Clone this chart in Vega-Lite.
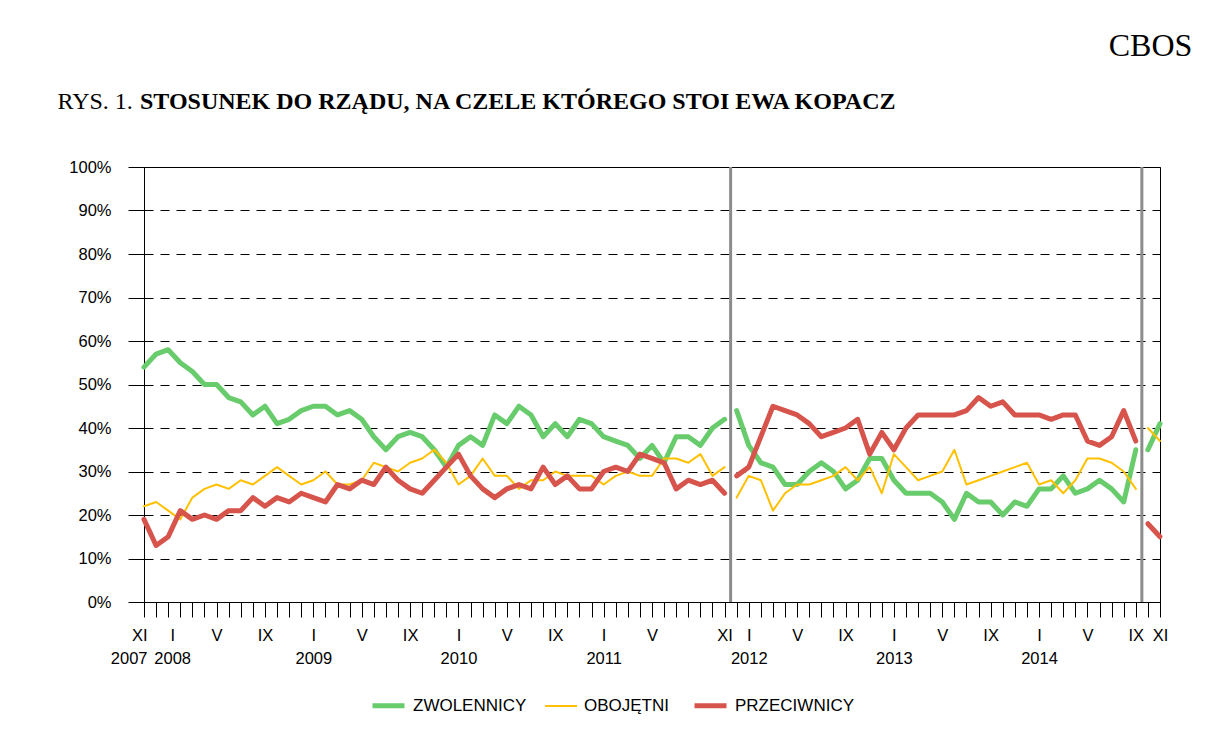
{
  "$schema": "https://vega.github.io/schema/vega-lite/v6.json",
  "width": 1016,
  "height": 435,
  "autosize": {"type": "none"},
  "padding": {"left": 144, "top": 167, "right": 49, "bottom": 149},
  "background": "white",
  "config": {
    "view": {"stroke": "black", "strokeWidth": 1},
    "axis": {"domainColor": "black", "tickColor": "black", "labelColor": "black", "labelFont": "Liberation Sans"}
  },
  "title": {
    "text": "STOSUNEK DO RZĄDU, NA CZELE KTÓREGO STOI EWA KOPACZ",
    "anchor": "start",
    "frame": "group",
    "font": "Liberation Serif",
    "fontSize": 24,
    "fontWeight": "bold",
    "color": "black",
    "baseline": "alphabetic",
    "offset": 0,
    "dx": -4,
    "dy": 104
  },
  "datasets": {
    "breaks": [{"i": 48.5}, {"i": 82.5}],
    "poll": [
      {"i": 0, "seg": 1, "ZWOLENNICY": 54, "OBOJĘTNI": 22, "PRZECIWNICY": 19},
      {"i": 1, "seg": 1, "ZWOLENNICY": 57, "OBOJĘTNI": 23, "PRZECIWNICY": 13},
      {"i": 2, "seg": 1, "ZWOLENNICY": 58, "OBOJĘTNI": 21, "PRZECIWNICY": 15},
      {"i": 3, "seg": 1, "ZWOLENNICY": 55, "OBOJĘTNI": 19, "PRZECIWNICY": 21},
      {"i": 4, "seg": 1, "ZWOLENNICY": 53, "OBOJĘTNI": 24, "PRZECIWNICY": 19},
      {"i": 5, "seg": 1, "ZWOLENNICY": 50, "OBOJĘTNI": 26, "PRZECIWNICY": 20},
      {"i": 6, "seg": 1, "ZWOLENNICY": 50, "OBOJĘTNI": 27, "PRZECIWNICY": 19},
      {"i": 7, "seg": 1, "ZWOLENNICY": 47, "OBOJĘTNI": 26, "PRZECIWNICY": 21},
      {"i": 8, "seg": 1, "ZWOLENNICY": 46, "OBOJĘTNI": 28, "PRZECIWNICY": 21},
      {"i": 9, "seg": 1, "ZWOLENNICY": 43, "OBOJĘTNI": 27, "PRZECIWNICY": 24},
      {"i": 10, "seg": 1, "ZWOLENNICY": 45, "OBOJĘTNI": 29, "PRZECIWNICY": 22},
      {"i": 11, "seg": 1, "ZWOLENNICY": 41, "OBOJĘTNI": 31, "PRZECIWNICY": 24},
      {"i": 12, "seg": 1, "ZWOLENNICY": 42, "OBOJĘTNI": 29, "PRZECIWNICY": 23},
      {"i": 13, "seg": 1, "ZWOLENNICY": 44, "OBOJĘTNI": 27, "PRZECIWNICY": 25},
      {"i": 14, "seg": 1, "ZWOLENNICY": 45, "OBOJĘTNI": 28, "PRZECIWNICY": 24},
      {"i": 15, "seg": 1, "ZWOLENNICY": 45, "OBOJĘTNI": 30, "PRZECIWNICY": 23},
      {"i": 16, "seg": 1, "ZWOLENNICY": 43, "OBOJĘTNI": 27, "PRZECIWNICY": 27},
      {"i": 17, "seg": 1, "ZWOLENNICY": 44, "OBOJĘTNI": 27, "PRZECIWNICY": 26},
      {"i": 18, "seg": 1, "ZWOLENNICY": 42, "OBOJĘTNI": 28, "PRZECIWNICY": 28},
      {"i": 19, "seg": 1, "ZWOLENNICY": 38, "OBOJĘTNI": 32, "PRZECIWNICY": 27},
      {"i": 20, "seg": 1, "ZWOLENNICY": 35, "OBOJĘTNI": 31, "PRZECIWNICY": 31},
      {"i": 21, "seg": 1, "ZWOLENNICY": 38, "OBOJĘTNI": 30, "PRZECIWNICY": 28},
      {"i": 22, "seg": 1, "ZWOLENNICY": 39, "OBOJĘTNI": 32, "PRZECIWNICY": 26},
      {"i": 23, "seg": 1, "ZWOLENNICY": 38, "OBOJĘTNI": 33, "PRZECIWNICY": 25},
      {"i": 24, "seg": 1, "ZWOLENNICY": 35, "OBOJĘTNI": 35, "PRZECIWNICY": 28},
      {"i": 25, "seg": 1, "ZWOLENNICY": 31, "OBOJĘTNI": 32, "PRZECIWNICY": 31},
      {"i": 26, "seg": 1, "ZWOLENNICY": 36, "OBOJĘTNI": 27, "PRZECIWNICY": 34},
      {"i": 27, "seg": 1, "ZWOLENNICY": 38, "OBOJĘTNI": 29, "PRZECIWNICY": 29},
      {"i": 28, "seg": 1, "ZWOLENNICY": 36, "OBOJĘTNI": 33, "PRZECIWNICY": 26},
      {"i": 29, "seg": 1, "ZWOLENNICY": 43, "OBOJĘTNI": 29, "PRZECIWNICY": 24},
      {"i": 30, "seg": 1, "ZWOLENNICY": 41, "OBOJĘTNI": 29, "PRZECIWNICY": 26},
      {"i": 31, "seg": 1, "ZWOLENNICY": 45, "OBOJĘTNI": 26, "PRZECIWNICY": 27},
      {"i": 32, "seg": 1, "ZWOLENNICY": 43, "OBOJĘTNI": 28, "PRZECIWNICY": 26},
      {"i": 33, "seg": 1, "ZWOLENNICY": 38, "OBOJĘTNI": 28, "PRZECIWNICY": 31},
      {"i": 34, "seg": 1, "ZWOLENNICY": 41, "OBOJĘTNI": 30, "PRZECIWNICY": 27},
      {"i": 35, "seg": 1, "ZWOLENNICY": 38, "OBOJĘTNI": 29, "PRZECIWNICY": 29},
      {"i": 36, "seg": 1, "ZWOLENNICY": 42, "OBOJĘTNI": 29, "PRZECIWNICY": 26},
      {"i": 37, "seg": 1, "ZWOLENNICY": 41, "OBOJĘTNI": 29, "PRZECIWNICY": 26},
      {"i": 38, "seg": 1, "ZWOLENNICY": 38, "OBOJĘTNI": 27, "PRZECIWNICY": 30},
      {"i": 39, "seg": 1, "ZWOLENNICY": 37, "OBOJĘTNI": 29, "PRZECIWNICY": 31},
      {"i": 40, "seg": 1, "ZWOLENNICY": 36, "OBOJĘTNI": 30, "PRZECIWNICY": 30},
      {"i": 41, "seg": 1, "ZWOLENNICY": 33, "OBOJĘTNI": 29, "PRZECIWNICY": 34},
      {"i": 42, "seg": 1, "ZWOLENNICY": 36, "OBOJĘTNI": 29, "PRZECIWNICY": 33},
      {"i": 43, "seg": 1, "ZWOLENNICY": 32, "OBOJĘTNI": 33, "PRZECIWNICY": 32},
      {"i": 44, "seg": 1, "ZWOLENNICY": 38, "OBOJĘTNI": 33, "PRZECIWNICY": 26},
      {"i": 45, "seg": 1, "ZWOLENNICY": 38, "OBOJĘTNI": 32, "PRZECIWNICY": 28},
      {"i": 46, "seg": 1, "ZWOLENNICY": 36, "OBOJĘTNI": 34, "PRZECIWNICY": 27},
      {"i": 47, "seg": 1, "ZWOLENNICY": 40, "OBOJĘTNI": 29, "PRZECIWNICY": 28},
      {"i": 48, "seg": 1, "ZWOLENNICY": 42, "OBOJĘTNI": 31, "PRZECIWNICY": 25},
      {"i": 49, "seg": 2, "ZWOLENNICY": 44, "OBOJĘTNI": 24, "PRZECIWNICY": 29},
      {"i": 50, "seg": 2, "ZWOLENNICY": 36, "OBOJĘTNI": 29, "PRZECIWNICY": 31},
      {"i": 51, "seg": 2, "ZWOLENNICY": 32, "OBOJĘTNI": 28, "PRZECIWNICY": 38},
      {"i": 52, "seg": 2, "ZWOLENNICY": 31, "OBOJĘTNI": 21, "PRZECIWNICY": 45},
      {"i": 53, "seg": 2, "ZWOLENNICY": 27, "OBOJĘTNI": 25, "PRZECIWNICY": 44},
      {"i": 54, "seg": 2, "ZWOLENNICY": 27, "OBOJĘTNI": 27, "PRZECIWNICY": 43},
      {"i": 55, "seg": 2, "ZWOLENNICY": 30, "OBOJĘTNI": 27, "PRZECIWNICY": 41},
      {"i": 56, "seg": 2, "ZWOLENNICY": 32, "OBOJĘTNI": 28, "PRZECIWNICY": 38},
      {"i": 57, "seg": 2, "ZWOLENNICY": 30, "OBOJĘTNI": 29, "PRZECIWNICY": 39},
      {"i": 58, "seg": 2, "ZWOLENNICY": 26, "OBOJĘTNI": 31, "PRZECIWNICY": 40},
      {"i": 59, "seg": 2, "ZWOLENNICY": 28, "OBOJĘTNI": 28, "PRZECIWNICY": 42},
      {"i": 60, "seg": 2, "ZWOLENNICY": 33, "OBOJĘTNI": 31, "PRZECIWNICY": 34},
      {"i": 61, "seg": 2, "ZWOLENNICY": 33, "OBOJĘTNI": 25, "PRZECIWNICY": 39},
      {"i": 62, "seg": 2, "ZWOLENNICY": 28, "OBOJĘTNI": 34, "PRZECIWNICY": 35},
      {"i": 63, "seg": 2, "ZWOLENNICY": 25, "OBOJĘTNI": 31, "PRZECIWNICY": 40},
      {"i": 64, "seg": 2, "ZWOLENNICY": 25, "OBOJĘTNI": 28, "PRZECIWNICY": 43},
      {"i": 65, "seg": 2, "ZWOLENNICY": 25, "OBOJĘTNI": 29, "PRZECIWNICY": 43},
      {"i": 66, "seg": 2, "ZWOLENNICY": 23, "OBOJĘTNI": 30, "PRZECIWNICY": 43},
      {"i": 67, "seg": 2, "ZWOLENNICY": 19, "OBOJĘTNI": 35, "PRZECIWNICY": 43},
      {"i": 68, "seg": 2, "ZWOLENNICY": 25, "OBOJĘTNI": 27, "PRZECIWNICY": 44},
      {"i": 69, "seg": 2, "ZWOLENNICY": 23, "OBOJĘTNI": 28, "PRZECIWNICY": 47},
      {"i": 70, "seg": 2, "ZWOLENNICY": 23, "OBOJĘTNI": 29, "PRZECIWNICY": 45},
      {"i": 71, "seg": 2, "ZWOLENNICY": 20, "OBOJĘTNI": 30, "PRZECIWNICY": 46},
      {"i": 72, "seg": 2, "ZWOLENNICY": 23, "OBOJĘTNI": 31, "PRZECIWNICY": 43},
      {"i": 73, "seg": 2, "ZWOLENNICY": 22, "OBOJĘTNI": 32, "PRZECIWNICY": 43},
      {"i": 74, "seg": 2, "ZWOLENNICY": 26, "OBOJĘTNI": 27, "PRZECIWNICY": 43},
      {"i": 75, "seg": 2, "ZWOLENNICY": 26, "OBOJĘTNI": 28, "PRZECIWNICY": 42},
      {"i": 76, "seg": 2, "ZWOLENNICY": 29, "OBOJĘTNI": 25, "PRZECIWNICY": 43},
      {"i": 77, "seg": 2, "ZWOLENNICY": 25, "OBOJĘTNI": 28, "PRZECIWNICY": 43},
      {"i": 78, "seg": 2, "ZWOLENNICY": 26, "OBOJĘTNI": 33, "PRZECIWNICY": 37},
      {"i": 79, "seg": 2, "ZWOLENNICY": 28, "OBOJĘTNI": 33, "PRZECIWNICY": 36},
      {"i": 80, "seg": 2, "ZWOLENNICY": 26, "OBOJĘTNI": 32, "PRZECIWNICY": 38},
      {"i": 81, "seg": 2, "ZWOLENNICY": 23, "OBOJĘTNI": 30, "PRZECIWNICY": 44},
      {"i": 82, "seg": 2, "ZWOLENNICY": 35, "OBOJĘTNI": 26, "PRZECIWNICY": 37},
      {"i": 83, "seg": 3, "ZWOLENNICY": 35, "OBOJĘTNI": 40, "PRZECIWNICY": 18},
      {"i": 84, "seg": 3, "ZWOLENNICY": 41, "OBOJĘTNI": 37, "PRZECIWNICY": 15}
    ]
  },
  "encoding": {
    "x": {
      "field": "i",
      "type": "quantitative",
      "scale": {"domain": [0, 84], "nice": false, "zero": false},
      "axis": {
        "values": [0,1,2,3,4,5,6,7,8,9,10,11,12,13,14,15,16,17,18,19,20,21,22,23,24,25,26,27,28,29,30,31,32,33,34,35,36,37,38,39,40,41,42,43,44,45,46,47,48,49,50,51,52,53,54,55,56,57,58,59,60,61,62,63,64,65,66,67,68,69,70,71,72,73,74,75,76,77,78,79,80,81,82,83,84],
        "labelExpr": "datum.value == 0 ? ['XI', '2007'] : (datum.value == 48 || datum.value == 84) ? 'XI' : datum.value == 46 ? '' : ((datum.value + 10) % 12 == 0) ? ['I', '' + (2007 + floor((datum.value + 10) / 12))] : ((datum.value + 10) % 12 == 4) ? 'V' : ((datum.value + 10) % 12 == 8) ? 'IX' : ''",
        "tickSize": 15,
        "labelFontSize": 16.5,
        "labelPadding": 10,
        "labelLineHeight": 23,
        "labelFlush": false,
        "labelOverlap": false,
        "labelBound": false,
        "labelAlign": {"condition": {"test": "datum.value == 0", "value": "right"}, "value": "center"},
        "labelOffset": {"condition": [{"test": "datum.value == 0", "value": 3}, {"test": "datum.value == 2", "value": 4}], "value": 0},
        "grid": false,
        "title": "CBOS",
        "titleFont": "Liberation Serif",
        "titleFontSize": 32,
        "titleFontWeight": "normal",
        "titleColor": "black",
        "titleAngle": 0,
        "titleAlign": "center",
        "titleBaseline": "alphabetic",
        "titleX": 1006,
        "titleY": -547
      }
    }
  },
  "layer": [
    {
      "data": {"name": "breaks"},
      "mark": {"type": "rule", "color": "#8c8c8c", "strokeWidth": 3},
      "encoding": {}
    },
    {
      "data": {"name": "poll"},
      "transform": [{"fold": ["ZWOLENNICY", "OBOJĘTNI", "PRZECIWNICY"], "as": ["s", "v"]}],
      "mark": {"type": "line", "strokeCap": "round", "strokeJoin": "round"},
      "encoding": {
        "y": {
          "field": "v",
          "type": "quantitative",
          "scale": {"domain": [0, 100], "nice": false},
          "axis": {
            "values": [0,10,20,30,40,50,60,70,80,90,100],
            "labelExpr": "datum.value + '%'",
            "tickSize": 16,
            "labelPadding": 17,
            "labelFontSize": 16.5,
            "grid": true,
            "gridColor": "black",
            "gridDash": [9, 7],
            "gridWidth": 1,
            "title": "RYS. 1.",
            "titleFont": "Liberation Serif",
            "titleFontSize": 24,
            "titleFontWeight": "normal",
            "titleColor": "black",
            "titleAngle": 0,
            "titleAlign": "left",
            "titleBaseline": "alphabetic",
            "titleX": -87,
            "titleY": -59
          }
        },
        "detail": {"field": "seg", "type": "nominal"},
        "color": {
          "field": "s",
          "type": "nominal",
          "scale": {"domain": ["ZWOLENNICY", "OBOJĘTNI", "PRZECIWNICY"], "range": ["#69cc6c", "#ffc000", "#d6544b"]},
          "legend": {
            "orient": "none",
            "legendX": 226,
            "legendY": 520,
            "direction": "horizontal",
            "title": null,
            "symbolType": "stroke",
            "symbolSize": 1024,
            "labelFont": "Liberation Sans",
            "labelFontSize": 17,
            "labelColor": "black",
            "labelOffset": 6,
            "columnPadding": 14,
            "padding": 0
          }
        },
        "strokeWidth": {
          "field": "s",
          "type": "nominal",
          "scale": {"type": "ordinal", "domain": ["ZWOLENNICY", "OBOJĘTNI", "PRZECIWNICY"], "range": [5, 2, 5]},
          "legend": {
            "orient": "none",
            "legendX": 226,
            "legendY": 520,
            "direction": "horizontal",
            "title": null,
            "symbolType": "stroke",
            "symbolSize": 1024,
            "labelFont": "Liberation Sans",
            "labelFontSize": 17,
            "labelColor": "black",
            "labelOffset": 6,
            "columnPadding": 14,
            "padding": 0
          }
        }
      }
    }
  ]
}
